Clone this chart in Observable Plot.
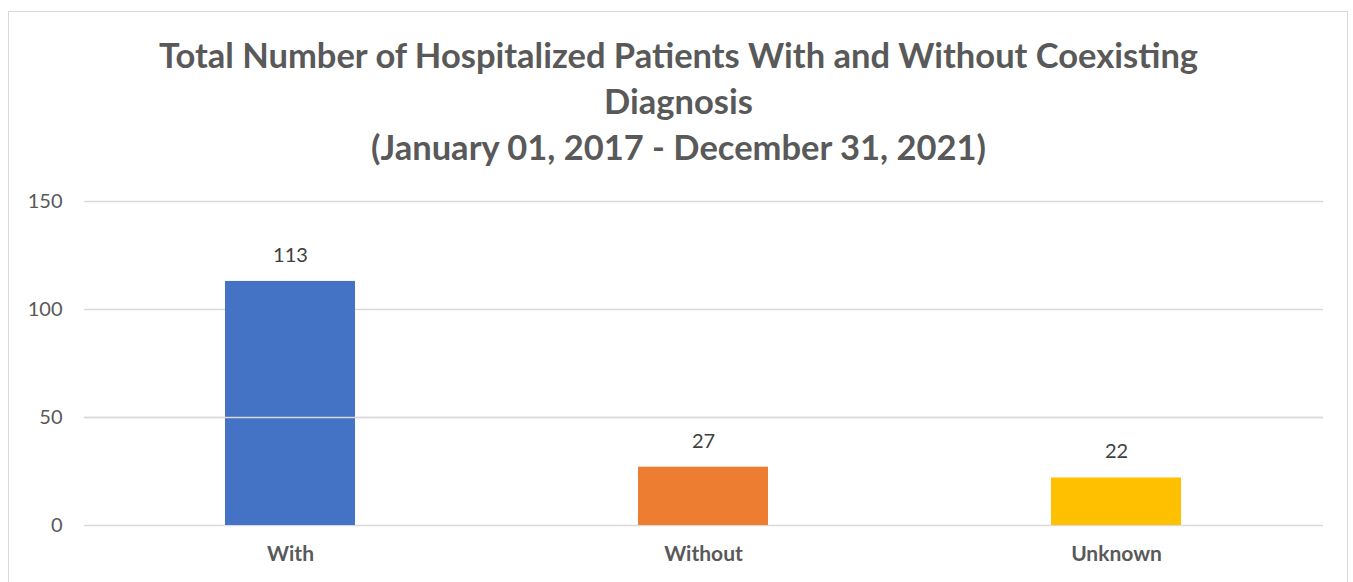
<!DOCTYPE html>
<html>
<head>
<meta charset="utf-8">
<script src="https://cdn.jsdelivr.net/npm/d3@7"></script>
<script src="https://cdn.jsdelivr.net/npm/@observablehq/plot@0.6"></script>
<style>
  html, body { margin: 0; padding: 0; background: #fff; width: 1353px; height: 582px; overflow: hidden; }
  #frame { position: absolute; left: 8px; top: 11px; width: 1340px; height: 600px; border: 1px solid #d9d9d9; box-sizing: border-box; }
  #title { position: absolute; left: 8px; width: 1341px; top: 32px; text-align: center; font-family: Lato, "Open Sans", sans-serif; font-weight: bold; font-size: 34.5px; line-height: 46px; color: #595959; }
  #chart { position: absolute; left: 0; top: 180px; }
</style>
</head>
<body>
<div id="frame"></div>
<div id="title">Total Number of Hospitalized Patients With and Without Coexisting<br>Diagnosis<br>(January 01, 2017 - December 31, 2021)</div>
<div id="chart"></div>
<script>
const categories = ["With", "Without", "Unknown"];
const values = [113, 27, 22];
const colors = ["#4472C4", "#ED7D31", "#FFC000"];
const yTicks = [0, 50, 100, 150];

const data = categories.map((c, i) => ({category: c, value: values[i], color: colors[i]}));

const chart = Plot.plot({
  width: 1353,
  height: 402,
  marginTop: 21,
  marginBottom: 57,
  marginLeft: 84,
  marginRight: 30,
  style: {fontFamily: "Lato, 'Open Sans', sans-serif", fontSize: "20px", color: "#595959", background: "transparent"},
  x: {domain: categories, paddingInner: 0.685, paddingOuter: 0.3425, label: null},
  y: {domain: [0, 150], ticks: yTicks, label: null},
  marks: [
    Plot.ruleY(yTicks, {stroke: "#d9d9d9", strokeWidth: 1.5}),
    Plot.barY(data, {x: "category", y: "value", fill: "color"}),
    Plot.ruleY([50], {stroke: "#d9d9d9", strokeWidth: 1.5}),
    Plot.text(data, {x: "category", y: "value", text: d => String(d.value), dy: -26, fill: "#404040", fontSize: 20}),
    Plot.axisY({ticks: yTicks, tickSize: 0, tickPadding: 22, fill: "#595959", fontSize: 20}),
    Plot.axisX({tickSize: 0, tickPadding: 21, fill: "#595959", fontSize: 21, fontWeight: "bold"})
  ]
});
document.getElementById("chart").appendChild(chart);
</script>
</body>
</html>
